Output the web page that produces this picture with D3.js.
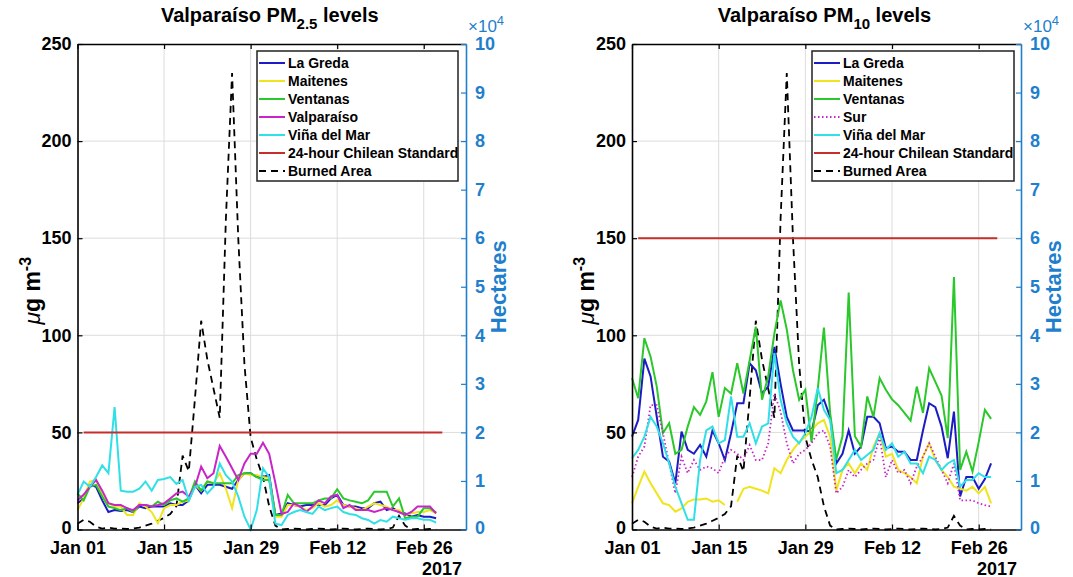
<!DOCTYPE html>
<html>
<head>
<meta charset="utf-8">
<script src="https://cdn.jsdelivr.net/npm/d3@7"></script>
<style>
  body { margin: 0; background: #fff; }
  svg { font-family: "Liberation Sans", Arial, sans-serif; font-weight: bold; }
</style>
</head>
<body>
<svg id="chart" width="1073" height="577"></svg>
<script>
// ---- data (daily values, Jan 01 .. Feb 28 2017) ----
const startDay = "2017-01-01";
const nDays = 59;
const axisEnd = "2017-03-04T20:00";
const tickDates = ["2017-01-01", "2017-01-15", "2017-01-29", "2017-02-12", "2017-02-26"];
const tickLabels = ["Jan 01", "Jan 15", "Jan 29", "Feb 12", "Feb 26"];
const yearLabel = "2017";
const stdDates = ["2017-01-02", "2017-03-01"];
const leftTicks = [0, 50, 100, 150, 200, 250];
const rightTicks = [0, 10000, 20000, 30000, 40000, 50000, 60000, 70000, 80000, 90000, 100000];

// burned area, hectares
const burnedArea = [1200, 2000, 1600, 600, 200, 400, 200, 200, 100, 200,
  400, 800, 1200, 1800, 2400, 3200, 4800, 15200, 12000, 27000,
  43000, 35000, 29000, 23000, 64000, 94000, 60000, 34000, 19000, 14400,
  10800, 4800, 800, 0, 100, 200, 100, 0, 100, 200,
  100, 0, 100, 200, 100, 0, 100, 200, 100, 0,
  100, 400, 2800, 800, 0, 100, 0, 100, 0];

// PM2.5
const pm25LaGreda = [13.5, 16, 23, 22, 15, 9, 10, 9.5, 10, 9,
  11.8, 11, 11.8, 11.8, 11.8, 13.5, 12.6, 12.6, 15, 23,
  18.6, 23, 23, 23, 22, 21, 25.5, 29, 29, 27,
  27, 28, 7.5, 8.3, 13.5, 12.6, 11.8, 12.6, 12.6, 12.6,
  12.6, 16, 17.8, 12.6, 11.8, 11.8, 11, 11, 13.5, 14.3,
  10, 11, 9, 8.3, 6.6, 7.5, 6.6, 6.6, 5.8];
const pm25Maitenes = [10, 16, 24.7, 25.5, 18.6, 13.5, 11.8, 11.8, 7.5, 7.5,
  13.5, 11.8, 9, 3.2, 11, 12.6, 12.6, 14.3, 15, 23,
  20, 24.7, 23.8, 29, 21, 11, 25.5, 29, 28, 28,
  27, 26.4, 6.6, 6.6, 12.6, 12.6, 11.8, 10, 11, 13.5,
  11.8, 12.6, 15, 12.6, 11.8, 11, 10, 11.8, 13.5, 12.6,
  11.8, 10, 10, 7.5, 8.3, 9, 9, 10, 8.3];
const pm25Ventanas = [18.6, 15, 22, 23, 17, 11.8, 11, 10, 11, 9,
  12.6, 12.6, 11.8, 14.3, 12.6, 15, 16, 14.3, 16, 24.7,
  20, 24.7, 23.8, 23.8, 23.8, 23.8, 28, 29, 29, 27,
  25.5, 25.5, 7.5, 7.5, 17.8, 13.5, 13.5, 13.5, 13.5, 15,
  16, 16, 20.7, 16, 15, 14.3, 13.5, 15, 19.5, 19.5,
  19.5, 11.8, 16, 5.8, 6.6, 6.6, 11, 11, 8.7];
const pm25Valparaiso = [15, 18, 22, 25.5, 20, 13.5, 12.6, 12.6, 11, 10,
  12.6, 12.6, 11.8, 12.6, 13.5, 16, 18.6, 19.5, 17, 22,
  32.4, 26.4, 29, 43, 37.5, 31.5, 25.5, 34, 39, 39,
  44.7, 39, 24, 8, 9, 13.5, 11.8, 9, 11.8, 15,
  13.5, 17, 17.8, 11, 12.6, 10, 10, 10, 9, 10,
  11, 10, 9, 7.5, 9, 11.8, 11.8, 11.8, 8.3];
const pm25Vina = [17.8, 24.7, 22, 27, 33, 29, 63, 20, 19.5, 19.5,
  21, 24.7, 20, 25.5, 26, 27, 23.5, 25.5, 15, 22,
  23, 18.6, 22, 34, 28, 24.7, 17, 6.6, 0, 10,
  31.5, 27, 3, 2.3, 7.5, 9, 10, 9, 8, 11.8,
  10, 11, 11.8, 9, 8, 7.5, 5.8, 4.9, 3, 4.9,
  4, 6.6, 5.8, 5, 5.8, 5.8, 5, 5, 3.5];

// PM10
const pm10LaGreda = [47.8, 56.4, 88, 78.8, 58, 37.5, 35, 23.8, 50.4, 41,
  39, 43.5, 37.5, 51, 44.4, 35.8, 49.6, 65, 65, 85.6,
  82, 70, 73.6, 94, 75, 58, 51, 51, 51, 50.4,
  64, 66.8, 58, 34, 39, 51, 39, 42.7, 58, 58,
  54.7, 41.8, 42.7, 40, 40, 35.8, 35.8, 51, 65, 63,
  53, 36.7, 60.7, 17, 27, 27, 21, 26, 34];
const pm10Maitenes = [13.5, 22, 29.8, 23.8, 18.6, 13.5, 12.6, 9.2, 10.9, 14.3,
  15.5, 15.5, 16, 14.3, 15, 12.6, null, 14.3, 21, 22,
  21, 20, 18.6, 31.5, 29, 35.8, 41, 45, 47.8, 51,
  54.7, 56.4, 47.8, 20, 30.7, 34, 29, 34, 30.7, 42.7,
  49.6, 37.5, 39, 30.7, 29, 27, 23.8, 37.5, 44.4, 35.8,
  30.7, 27, 22, 21, 20, 22, 18.6, 22, 13.5];
const pm10Ventanas = [78, 67.6, 98.5, 89, 73.6, 49.6, 54.7, 39, 41, 53,
  63, 59, 66, 81, 58, 72.8, 70, 85.6, 70, 87,
  104.5, 66.8, 78.8, 101, 118, 103, 82, 66.8, 72, 45,
  72, 104, 60, 36, 48, 122, 48, 42.7, 68.5, 58,
  78, 72, 67, 64, 60, 56, 73.6, 60, 83, 76,
  69, 47, 130, 30.7, 40, 29.8, 45, 61.6, 57];
const pm10Sur = [27, 37.5, 42.7, 64, 64, 49.6, 34, 18.6, 37.5, 29,
  35.8, 30.7, 32.4, 31.5, 29, 37.5, 41, 39, 35.8, 43.5,
  35.8, 35.8, 44.4, 70, 60.7, 44.4, 34, 39, 41, 44.4,
  49.6, 51, 42.7, 18.6, 22, 30.7, 27, 30.7, 34, 35.8,
  47.8, 27, 35.8, 29, 30.7, 23.8, 32.4, 37.5, 44.4, 37.5,
  30.7, 23.8, 34, 15, 15, 15, 13.5, 12.6, 11.8];
const pm10Vina = [36.7, 41, 47.8, 58, 53, 44.4, 34, 22, 13.5, 5,
  5, 35.8, 51, 53, 44.4, 46, 68.5, 47.8, 47.8, 54.7,
  44.4, 53, 54.7, 90.8, 66.8, 54.7, 47.8, 44.4, 49.6, 58,
  72.8, 61.6, 56.4, 29, 30.7, 35.8, 41, 35.8, 38.4, 41,
  49.6, 41, 44.4, 37.5, 40, 34, 34, 29, 37.5, 35.8,
  30.7, 34, 35.8, 22, 25.5, 25.5, 29, 27, 27];

// ---- drawing ----
const parseDay = d3.utcParse("%Y-%m-%d");
const parseTime = d3.utcParse("%Y-%m-%dT%H:%M");
const days = d3.range(nDays).map(i => d3.utcDay.offset(parseDay(startDay), i));

const BLUE_AX = "#1f7fcc";
const colors = {
	laGreda: "#1c1cc4",
	maitenes: "#f0e41c",
	ventanas: "#2ac82a",
	valpo: "#c824c8",
	vina: "#30e0e6",
	red: "#c62e2c"
};

const panels = [
	{
		sub: "2.5", left: 77.5, right: 466, std: 50,
		series: [
			{ name: "La Greda", values: pm25LaGreda, color: colors.laGreda },
			{ name: "Maitenes", values: pm25Maitenes, color: colors.maitenes },
			{ name: "Ventanas", values: pm25Ventanas, color: colors.ventanas },
			{ name: "Valparaíso", values: pm25Valparaiso, color: colors.valpo },
			{ name: "Viña del Mar", values: pm25Vina, color: colors.vina }
		],
		legend: { x: 257, y: 51, w: 201, h: 130 }
	},
	{
		sub: "10", left: 632, right: 1021, std: 150,
		series: [
			{ name: "La Greda", values: pm10LaGreda, color: colors.laGreda },
			{ name: "Maitenes", values: pm10Maitenes, color: colors.maitenes },
			{ name: "Ventanas", values: pm10Ventanas, color: colors.ventanas },
			{ name: "Sur", values: pm10Sur, color: colors.valpo, dash: "1.5,2.5" },
			{ name: "Viña del Mar", values: pm10Vina, color: colors.vina }
		],
		legend: { x: 812, y: 51, w: 202, h: 130 }
	}
];

const plotTop = 44, plotBottom = 529.5;
const svg = d3.select("#chart");

panels.forEach(p => {
	const g = svg.append("g");

	const x = d3.scaleUtc()
		.domain([parseDay(startDay), parseTime(axisEnd)])
		.range([p.left, p.right]);
	const y = d3.scaleLinear().domain([0, 250]).range([plotBottom, plotTop]);
	const yR = d3.scaleLinear().domain([0, 100000]).range([plotBottom, plotTop]);

	const ticks = tickDates.map(parseDay);

	// grid
	const grid = g.append("g").attr("stroke", "#dcdcdc").attr("stroke-width", 1);
	grid.selectAll(".gx").data(ticks.slice(1)).enter().append("line")
		.attr("x1", d => x(d)).attr("x2", d => x(d))
		.attr("y1", plotTop).attr("y2", plotBottom);
	grid.selectAll(".gy").data(leftTicks.slice(1, -1)).enter().append("line")
		.attr("x1", p.left).attr("x2", p.right)
		.attr("y1", d => y(d)).attr("y2", d => y(d));

	// burned area (right axis)
	const areaLine = d3.line()
		.x((d, i) => x(days[i]))
		.y(d => yR(d));
	g.append("path")
		.datum(burnedArea)
		.attr("fill", "none")
		.attr("stroke", "#000")
		.attr("stroke-width", 1.8)
		.attr("stroke-dasharray", "7,5")
		.attr("d", areaLine);

	// stations
	const line = d3.line()
		.defined(d => d != null)
		.x((d, i) => x(days[i]))
		.y(d => y(d));
	p.series.forEach(s => {
		g.append("path")
			.datum(s.values)
			.attr("fill", "none")
			.attr("stroke", s.color)
			.attr("stroke-width", s.dash ? 1.8 : 2)
			.attr("stroke-dasharray", s.dash || null)
			.attr("d", line);
	});

	// standard
	g.append("path")
		.datum(stdDates.map(parseDay))
		.attr("fill", "none")
		.attr("stroke", colors.red)
		.attr("stroke-width", 2)
		.attr("d", d3.line().x(d => x(d)).y(() => y(p.std)));

	// axes
	const xAxis = g.append("g")
		.attr("transform", `translate(0,${plotBottom})`)
		.call(d3.axisBottom(x).tickValues(ticks)
			.tickFormat((d, i) => tickLabels[i])
			.tickSize(-5).tickSizeOuter(0).tickPadding(12));
	g.append("g")
		.attr("transform", `translate(0,${plotTop})`)
		.call(d3.axisTop(x).tickValues(ticks).tickFormat("")
			.tickSize(-5).tickSizeOuter(0));
	const lAxis = g.append("g")
		.attr("transform", `translate(${p.left},0)`)
		.call(d3.axisLeft(y).tickValues(leftTicks)
			.tickSize(-5).tickSizeOuter(0).tickPadding(6));
	const rAxis = g.append("g")
		.attr("transform", `translate(${p.right},0)`)
		.call(d3.axisRight(yR).tickValues(rightTicks)
			.tickFormat(d => d / 10000)
			.tickSize(-5).tickSizeOuter(0).tickPadding(9));

	g.selectAll(".domain").attr("stroke", "#000").attr("stroke-width", 1.6);
	g.selectAll(".tick line").attr("stroke", "#000").attr("stroke-width", 1.2);
	g.selectAll(".tick text").attr("font-size", 18).attr("font-family", null).attr("fill", "#000");
	// keep the "0" clear of the first date label
	lAxis.selectAll(".tick text").filter(d => d === 0).attr("dy", "0.2em");
	rAxis.selectAll(".domain, .tick line").attr("stroke", BLUE_AX);
	rAxis.selectAll(".tick text").attr("fill", BLUE_AX);
	rAxis.selectAll(".tick text").filter(d => d === 0).attr("dy", "0.2em");

	xAxis.append("text")
		.attr("x", p.right - 4).attr("y", 45)
		.attr("text-anchor", "end").attr("fill", "#000").attr("font-size", 18)
		.text(yearLabel);

	// exponent above the right axis
	const ex = g.append("text")
		.attr("x", p.right + 2).attr("y", 32)
		.attr("fill", BLUE_AX).attr("font-size", 17).attr("font-weight", "normal");
	ex.append("tspan").text("×10");
	ex.append("tspan").attr("dy", -7).attr("font-size", 13).text("4");

	// title
	const t = g.append("text")
		.attr("x", (p.left + p.right) / 2 - 2).attr("y", 22)
		.attr("text-anchor", "middle").attr("font-size", 20);
	t.append("tspan").text("Valparaíso PM");
	t.append("tspan").attr("dy", 7).attr("font-size", 15).text(p.sub);
	t.append("tspan").attr("dy", -7).text(" levels");

	// y labels
	const yl = g.append("text")
		.attr("transform", `translate(${p.left - 38},${(plotTop + plotBottom) / 2 + 4}) rotate(-90)`)
		.attr("text-anchor", "middle").attr("font-size", 23);
	yl.append("tspan").attr("font-style", "italic").attr("font-weight", "normal").text("μ");
	yl.append("tspan").text("g m");
	yl.append("tspan").attr("dy", -9).attr("font-size", 16).text("-3");

	g.append("text")
		.attr("transform", `translate(${p.right + 40},${(plotTop + plotBottom) / 2}) rotate(-90)`)
		.attr("text-anchor", "middle").attr("font-size", 22).attr("fill", BLUE_AX)
		.text("Hectares");

	// legend
	const L = p.legend;
	const lg = g.append("g");
	lg.append("rect")
		.attr("x", L.x).attr("y", L.y).attr("width", L.w).attr("height", L.h)
		.attr("fill", "#fff").attr("stroke", "#222").attr("stroke-width", 1.5);
	const entries = p.series.map(s => ({ name: s.name, color: s.color, dash: s.dash, width: 2 }))
		.concat([
			{ name: "24-hour Chilean Standard", color: colors.red, width: 2 },
			{ name: "Burned Area", color: "#000", dash: "7,5", width: 1.8 }
		]);
	entries.forEach((e, i) => {
		const cy = L.y + 12 + i * 18;
		lg.append("line")
			.attr("x1", L.x + 2).attr("x2", L.x + 28)
			.attr("y1", cy).attr("y2", cy)
			.attr("stroke", e.color).attr("stroke-width", e.width)
			.attr("stroke-dasharray", e.dash || null);
		lg.append("text")
			.attr("x", L.x + 31).attr("y", cy).attr("dy", "0.36em")
			.attr("font-size", 14).text(e.name);
	});
});
</script>
</body>
</html>
